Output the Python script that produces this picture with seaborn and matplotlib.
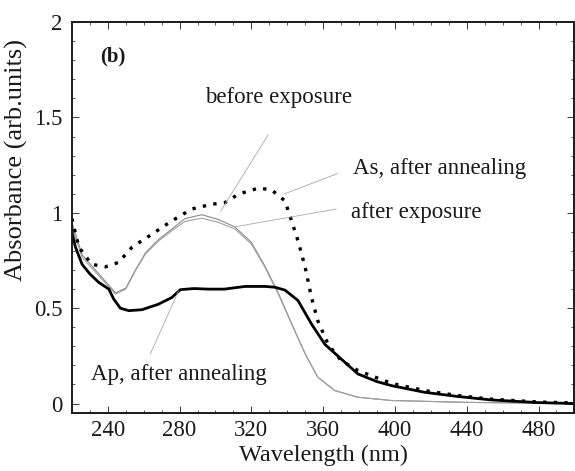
import numpy as np
import pandas as pd
import matplotlib
matplotlib.use("Agg")
import matplotlib.pyplot as plt
import seaborn as sns
from matplotlib.ticker import MultipleLocator, FuncFormatter

# Ap, after annealing (thick solid)
wl_ap = [220, 222, 225.7, 230, 235, 240.6, 243.3, 247, 251.7, 259, 268, 275.7, 280.4, 288, 296, 305,
         316.5, 327.6, 333, 338.7, 346, 353.5, 361, 370, 379.4, 390, 398, 416.5, 435, 453.5, 479.4, 500]
abs_ap = [0.90, 0.82, 0.73, 0.68, 0.635, 0.60, 0.548, 0.50, 0.487, 0.492, 0.52, 0.556, 0.597, 0.603, 0.60, 0.60,
          0.614, 0.614, 0.61, 0.595, 0.54, 0.417, 0.31, 0.234, 0.155, 0.115, 0.094, 0.059, 0.037, 0.019, 0.005, 0.0]

# As, after annealing (dotted)
wl_as = [220, 223.9, 231, 238.7, 246, 253.5, 264.6, 275.7, 286.8, 298, 305.4, 312.8, 324, 331.3, 338.7,
         342.4, 346, 350, 353.5, 357, 362.8, 370, 379.4, 398, 416.5, 435, 453.5, 480, 500]
abs_as = [0.97, 0.82, 0.73, 0.717, 0.74, 0.82, 0.888, 0.958, 1.02, 1.045, 1.054, 1.098, 1.13, 1.12, 1.063,
          0.958, 0.853, 0.714, 0.556, 0.435, 0.31, 0.225, 0.173, 0.106, 0.068, 0.042, 0.023, 0.008, 0.003]

# before exposure (thin gray)
wl_be = [220, 225.7, 235, 244.3, 250, 255.4, 261, 268.3, 275.7, 283, 292.4, 301.7, 311, 320, 327.6,
         335, 342.4, 350, 357, 366.5, 379.4, 398, 440, 500]
abs_be = [0.95, 0.78, 0.68, 0.58, 0.605, 0.70, 0.79, 0.86, 0.915, 0.97, 0.99, 0.965, 0.925, 0.845, 0.72,
          0.58, 0.42, 0.26, 0.138, 0.068, 0.033, 0.016, 0.006, 0.0]

# after exposure (thin gray)
wl_ae = [220, 225.7, 235, 244.3, 250, 255.4, 261, 268.3, 275.7, 283, 292.4, 301.7, 311, 320, 327.6,
         335, 342.4, 350, 357, 366.5, 379.4, 398, 440, 500]
abs_ae = [0.93, 0.766, 0.67, 0.574, 0.60, 0.696, 0.784, 0.853, 0.906, 0.955, 0.972, 0.95, 0.914, 0.836, 0.714,
          0.574, 0.417, 0.26, 0.138, 0.068, 0.033, 0.016, 0.006, 0.0]

x_ticks = [240, 280, 320, 360, 400, 440, 480]
y_ticks = [0, 0.5, 1, 1.5, 2]

sns.set_style("ticks")
plt.rcParams['font.family'] = ['Liberation Serif', 'DejaVu Serif']

fig = plt.figure(figsize=(5.75, 4.71), dpi=100)
ax = fig.add_axes([0.125, 0.123, 0.874, 0.830])

def frame(w, a, name):
    return pd.DataFrame({"wl": w, "A": a, "s": name})

sns.lineplot(data=frame(wl_be, abs_be, "be"), x="wl", y="A", ax=ax, color="#8a8a8a", lw=0.8, legend=False)
sns.lineplot(data=frame(wl_ae, abs_ae, "ae"), x="wl", y="A", ax=ax, color="#a0a0a0", lw=0.8, legend=False)
sns.lineplot(data=frame(wl_ap, abs_ap, "ap"), x="wl", y="A", ax=ax, color="black", lw=2.0, legend=False)
sns.lineplot(data=frame(wl_as, abs_as, "as"), x="wl", y="A", ax=ax, color="black", lw=2.4,
             linestyle=(0, (1, 2.2)), legend=False)

ax.set_xlim(220, 500)
ax.set_ylim(-0.05, 2)
ax.set_xticks(x_ticks)
ax.set_yticks(y_ticks)
ax.xaxis.set_minor_locator(MultipleLocator(10))
ax.yaxis.set_minor_locator(MultipleLocator(0.1))
ax.yaxis.set_major_formatter(FuncFormatter(lambda v, p: f"{v:g}"))
ax.tick_params(which="both", direction="in", top=True, right=True, labelsize=16.5, colors="#1a1a1a")
ax.tick_params(which="major", length=5, width=0.6)
ax.tick_params(which="minor", length=2.5, width=0.5)
ax.tick_params(axis="x", which="major", pad=5)
ax.tick_params(axis="y", which="major", pad=7)
for s in ax.spines.values():
    s.set_linewidth(1.4)
    s.set_color("#1a1a1a")

ax.set_xlabel("Wavelength (nm)", fontsize=17.5, labelpad=3, color="#1a1a1a")
ax.set_ylabel("Absorbance (arb.units)", fontsize=19, color="#1a1a1a")
ax.yaxis.set_label_coords(-0.0875, 0.647)

tc = "#1a1a1a"
lc = "#a8a8a8"
lead = dict(arrowstyle="-", color=lc, lw=0.6, shrinkA=0, shrinkB=0)
fs = 16.5
ax.text(236, 1.82, "(b)", fontsize=15, fontweight="bold", va="center", ha="left", color=tc)

ax.text(335, 1.605, "before exposure", fontsize=fs, color=tc, ha="center", va="center")
ax.annotate("", xy=(303, 1.01), xytext=(329.4, 1.41), arrowprops=lead)

ax.text(376.7, 1.235, "As, after annealing", fontsize=fs, color=tc, ha="left", va="center")
ax.annotate("", xy=(338.7, 1.10), xytext=(368, 1.206), arrowprops=lead)

ax.text(375.6, 1.0, "after exposure", fontsize=fs, color=tc, ha="left", va="center")
ax.annotate("", xy=(311, 0.927), xytext=(367.4, 1.02), arrowprops=lead)

ax.text(230.6, 0.15, "Ap, after annealing", fontsize=fs, color=tc, ha="left", va="center")
ax.annotate("", xy=(279.4, 0.59), xytext=(263.7, 0.26), arrowprops=lead)

fig.savefig("out.png", dpi=100)
